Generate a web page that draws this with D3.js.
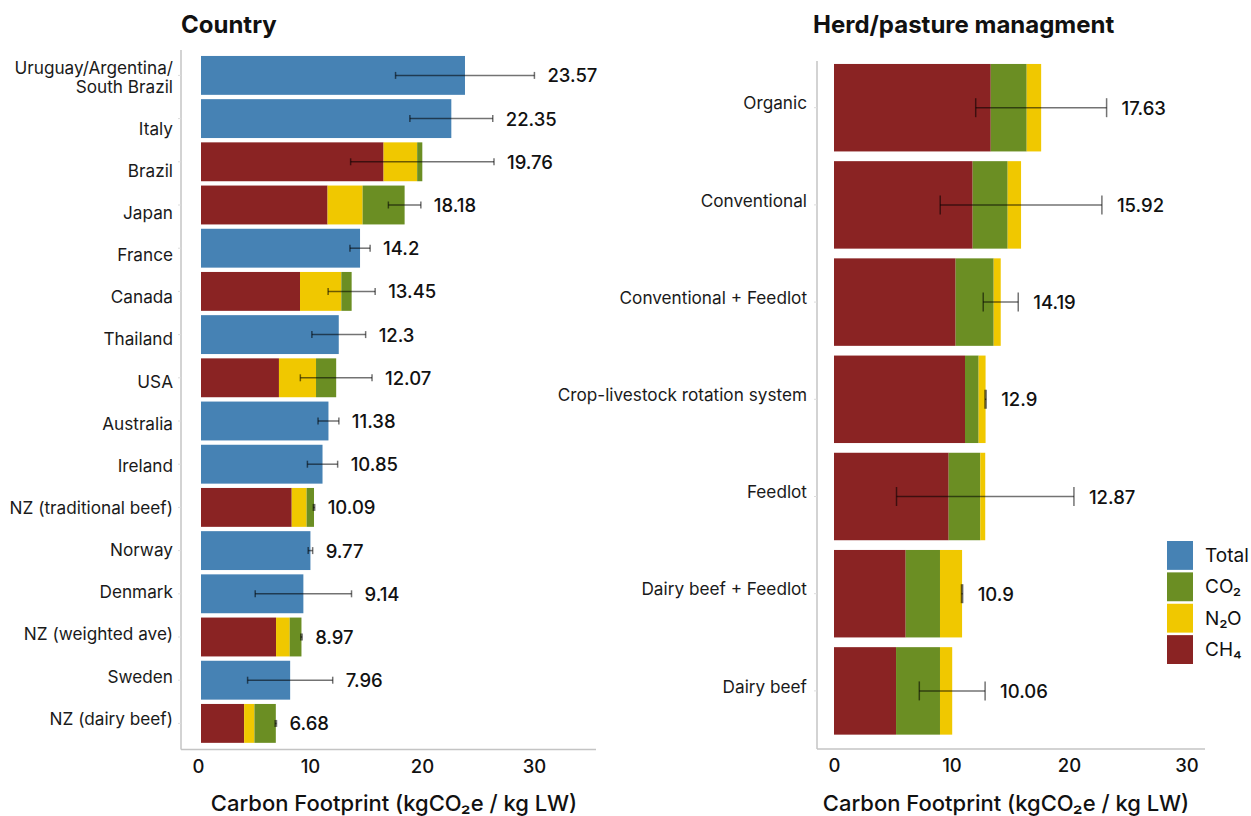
<!DOCTYPE html>
<html>
<head>
<meta charset="utf-8">
<script src="https://cdn.jsdelivr.net/npm/d3@7"></script>
<style>
  html, body { margin: 0; padding: 0; background: #fff; }
  svg { display: block; font-family: Inter, "Noto Sans", sans-serif; }
</style>
</head>
<body>
<svg id="chart" width="1251" height="816"></svg>
<script>
// ---- Country panel data (kgCO2e / kg LW) ----
const countries = ["Uruguay/Argentina/South Brazil", "Italy", "Brazil", "Japan", "France", "Canada",
  "Thailand", "USA", "Australia", "Ireland", "NZ (traditional beef)", "Norway", "Denmark",
  "NZ (weighted ave)", "Sweden", "NZ (dairy beef)"];
const countryTotal = [23.57, 22.35, 19.76, 18.18, 14.2, 13.45, 12.3, 12.07, 11.38, 10.85, 10.09, 9.77, 9.14, 8.97, 7.96, 6.68];
const countryErr   = [6.2, 3.7, 6.4, 1.45, 0.9, 2.1, 2.4, 3.2, 0.93, 1.35, 0.06, 0.2, 4.3, 0.06, 3.8, 0.06];
// gas breakdown where the study reports it (null = total only)
const countryCH4 = [null, null, 16.3, 11.3, null, 8.84, null, 6.96, null, null, 8.1, null, null, 6.7, null, 3.85];
const countryN2O = [null, null, 3.0, 3.13, null, 3.69, null, 3.31, null, null, 1.33, null, null, 1.22, null, 0.92];
const countryCO2 = [null, null, 0.46, 3.75, null, 0.92, null, 1.80, null, null, 0.66, null, null, 1.05, null, 1.91];

// ---- Herd / pasture management panel data ----
const systems = ["Organic", "Conventional", "Conventional + Feedlot", "Crop-livestock rotation system",
  "Feedlot", "Dairy beef + Feedlot", "Dairy beef"];
const systemTotal = [17.63, 15.92, 14.19, 12.9, 12.87, 10.9, 10.06];
const systemErr   = [5.57, 6.88, 1.49, 0.05, 7.55, 0.05, 2.8];
const systemCH4 = [13.34, 11.8, 10.35, 11.15, 9.76, 6.1, 5.28];
const systemCO2 = [3.06, 2.98, 3.24, 1.16, 2.69, 2.92, 3.74];
const systemN2O = [1.23, 1.14, 0.6, 0.59, 0.42, 1.88, 1.04];

const xTicks = [0, 10, 20, 30];
const legendKeys = ["Total", "CO₂", "N₂O", "CH₄"];
const colors = { "Total": "#4682b4", "CO₂": "#6b8e23", "N₂O": "#f0c800", "CH₄": "#8a2323" };
const axisTitle = "Carbon Footprint (kgCO₂e / kg LW)";

const svg = d3.select("#chart");
const axisColor = "#c4c4c4";

function panel(opts) {
  const g = svg.append("g");
  const x = d3.scaleLinear().domain([0, 30]).range(opts.xRange);
  const y = d3.scaleBand().domain(opts.cats).range(opts.yRange).paddingInner(0.1).paddingOuter(0.05);

  // title
  g.append("text").attr("x", opts.titleX).attr("y", 33)
    .attr("font-size", 24).attr("font-weight", 700).attr("fill", "#111")
    .text(opts.title);

  // frame axes
  g.append("line").attr("x1", opts.axisX).attr("x2", opts.axisX)
    .attr("y1", opts.axisTop).attr("y2", opts.axisY)
    .attr("stroke", axisColor).attr("stroke-width", 1.5);
  g.append("line").attr("x1", opts.axisX).attr("x2", opts.axisRight)
    .attr("y1", opts.axisY).attr("y2", opts.axisY)
    .attr("stroke", axisColor).attr("stroke-width", 1.5);

  // small category ticks
  g.append("g").attr("transform", `translate(${opts.axisX},0)`)
    .call(d3.axisLeft(y).tickSize(3).tickFormat(""))
    .call(a => a.select(".domain").remove())
    .call(a => a.selectAll(".tick line").attr("stroke", "#ddd"));

  // x axis labels
  const xa = g.append("g").attr("transform", `translate(0,${opts.axisY})`)
    .call(d3.axisBottom(x).tickValues(xTicks).tickSize(0).tickPadding(10).tickFormat(d3.format("d")));
  xa.select(".domain").remove();
  xa.selectAll("text").attr("font-size", 18.5).attr("font-weight", 500).attr("fill", "#111")
    .attr("font-family", "Inter, sans-serif").attr("dx", opts.tickDx || 0);

  g.append("text").attr("x", opts.axisTitleX).attr("y", 811).attr("text-anchor", "middle")
    .attr("font-size", 22).attr("font-weight", 500).attr("fill", "#111").text(axisTitle);

  // category labels
  const ly = opts.labelScale;
  opts.cats.forEach((c, i) => {
    const t = g.append("text").attr("x", opts.labelX).attr("y", ly(c, i))
      .attr("text-anchor", "end").attr("dominant-baseline", "middle")
      .attr("font-size", 17.2).attr("fill", "#1a1a1a");
    if (c === "Uruguay/Argentina/South Brazil") {
      t.append("tspan").attr("x", opts.labelX).attr("dy", "-1.1em").text("Uruguay/Argentina/");
      t.append("tspan").attr("x", opts.labelX).attr("dy", "1.1em").text("South Brazil");
    } else {
      t.text(c);
    }
  });

  // bars
  const bars = g.append("g");
  opts.cats.forEach((c, i) => {
    const segs = opts.segments(i);
    let acc = 0;
    segs.forEach(s => {
      bars.append("rect")
        .attr("x", x(acc)).attr("y", y(c))
        .attr("width", x(acc + s.v) - x(acc)).attr("height", y.bandwidth())
        .attr("fill", colors[s.k]);
      acc += s.v;
    });
  });

  // error bars
  const eg = g.append("g").attr("stroke", "#000").attr("stroke-opacity", 0.55).attr("stroke-width", 1.5);
  opts.cats.forEach((c, i) => {
    const v = opts.total[i], e = opts.err[i];
    const cy = y(c) + y.bandwidth() / 2;
    const x0 = x(v - e), x1 = x(v + e), h = opts.capH / 2;
    eg.append("line").attr("x1", x0).attr("x2", x1).attr("y1", cy).attr("y2", cy);
    eg.append("line").attr("x1", x0).attr("x2", x0).attr("y1", cy - h).attr("y2", cy + h);
    eg.append("line").attr("x1", x1).attr("x2", x1).attr("y1", cy - h).attr("y2", cy + h);
  });

  // value labels
  opts.cats.forEach((c, i) => {
    const v = opts.total[i], e = opts.err[i];
    g.append("text")
      .attr("x", x(Math.max(v, v + e)) + opts.valueGap)
      .attr("y", y(c) + y.bandwidth() / 2)
      .attr("dominant-baseline", "central")
      .attr("font-size", 18.5).attr("font-weight", 500).attr("fill", "#111")
      .text(v);
  });
}

// Country panel: labels sit on their own evenly spaced grid
const countryLabelY = d3.scalePoint().domain(countries).range([88, 720]);
panel({
  title: "Country", titleX: 181,
  cats: countries, total: countryTotal, err: countryErr,
  xRange: [201, 537], yRange: [53.8, 745],
  axisX: 181, axisTop: 50, axisY: 749.5, axisRight: 596,
  axisTitleX: 394, labelX: 173, tickDx: -3,
  labelScale: (c) => countryLabelY(c),
  capH: 7, valueGap: 13,
  segments: i => countryCH4[i] === null
    ? [{ k: "Total", v: countryTotal[i] }]
    : [{ k: "CH₄", v: countryCH4[i] }, { k: "N₂O", v: countryN2O[i] }, { k: "CO₂", v: countryCO2[i] }]
});

// Herd / pasture management panel
const sysY = d3.scaleBand().domain(systems).range([59.1, 739.5]).paddingInner(0.1).paddingOuter(0.05);
panel({
  title: "Herd/pasture managment", titleX: 813,
  cats: systems, total: systemTotal, err: systemErr,
  xRange: [834, 1186.5], yRange: [59.1, 739.5],
  axisX: 817, axisTop: 61, axisY: 749, axisRight: 1205,
  axisTitleX: 1006, labelX: 807,
  labelScale: (c) => sysY(c) + sysY.bandwidth() / 2 - 3,
  capH: 19, valueGap: 15,
  segments: i => [{ k: "CH₄", v: systemCH4[i] }, { k: "CO₂", v: systemCO2[i] }, { k: "N₂O", v: systemN2O[i] }]
});

// legend
const legendY = d3.scaleBand().domain(legendKeys).range([541, 664]).paddingInner(0.08);
const lg = svg.append("g");
legendKeys.forEach(k => {
  lg.append("rect").attr("x", 1167).attr("y", legendY(k))
    .attr("width", 26).attr("height", legendY.bandwidth()).attr("fill", colors[k]);
  lg.append("text").attr("x", 1205).attr("y", legendY(k) + legendY.bandwidth() / 2)
    .attr("dominant-baseline", "central").attr("font-size", 19).attr("fill", "#111").text(k);
});
</script>
</body>
</html>
